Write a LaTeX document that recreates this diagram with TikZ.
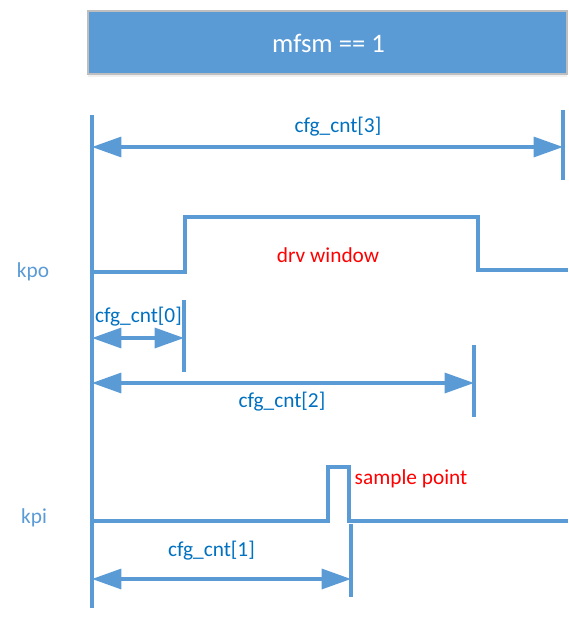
\documentclass[tikz,border=0pt]{standalone}
\usepackage{fontspec}
\setmainfont{Carlito}
\usetikzlibrary{arrows.meta,positioning,shadows}
\definecolor{WaveB} {RGB}{91, 155, 213}
\definecolor{LabelB}{RGB}{0,  112, 192}
\definecolor{MarkR} {RGB}{255, 0,   0}
\definecolor{EdgeG} {RGB}{190, 190, 190}

\begin{document}
\begin{tikzpicture}[x=0.75pt,y=-0.75pt,
    wave/.style={WaveB,line width=2.4pt},
    dim/.style={WaveB,line width=2.4pt,
      {Triangle[length=22pt,width=15pt]}-{Triangle[length=22pt,width=15pt]}},
    cnt/.style={LabelB,font=\fontsize{16}{18}\selectfont},
    sig/.style={WaveB,font=\fontsize{16}{18}\selectfont},
    redtxt/.style={MarkR,font=\fontsize{16}{18}\selectfont},
    hdr/.style={fill=WaveB,draw=EdgeG,line width=1pt,
      drop shadow={opacity=0.12,shadow xshift=0pt,shadow yshift=-2.5pt}}]
  \useasboundingbox (0,0) rectangle (568,621);

  % state banner
  \draw[hdr] (88,11) rectangle (567,74);
  \node[white,font=\fontsize{20}{24}\selectfont] (mfsm) at (328.5,43) {mfsm == 1};

  % time origin and end marks
  \coordinate (t0top) at (92,115);  \coordinate (t0bot) at (92,608);
  \draw[wave] (t0top) -- (t0bot);
  \foreach \n/\x/\ya/\yb in {c3/563/110/180, c0/184/300/372,
                             c2/474/345/417, c1/351/524/597}{
    \coordinate (\n top) at (\x,\ya);
    \coordinate (\n bot) at (\x,\yb);
    \draw[wave] (\n top) -- (\n bot);}

  % signal names
  \node[sig] (kpo) at (33,272) {kpo};
  \node[sig] (kpi) at (34,518) {kpi};

  % kpo drive window
  \draw[wave] (92,272) -- (185,272) -- (185,217) -- (478,217)
    -- (478,270) -- (568,270);
  \node[redtxt] (drv) at (328,255) {drv window};

  % kpi sample pulse
  \draw[wave] (92,521) -- (328,521) -- (328,467) -- (349,467)
    -- (349,521) -- (568,521);
  \node[redtxt,anchor=west] (smp) at (350,479) {sample point};

  % counters
  \foreach \n/\y in {c3/147, c0/338, c2/383, c1/579}{
    \coordinate (\n a) at (92,\y);
    \path (\n top) |- coordinate (\n b) (\n a);
    \draw[dim] (\n a) -- (\n b);}
  \node[cnt] (l3) at (338,127) {cfg\_cnt[3]};
  \node[cnt] (l0) at (138.5,317) {cfg\_cnt[0]};
  \node[cnt] (l2) at (282,402) {cfg\_cnt[2]};
  \node[cnt] (l1) at (211.5,551) {cfg\_cnt[1]};
\end{tikzpicture}
\end{document}
